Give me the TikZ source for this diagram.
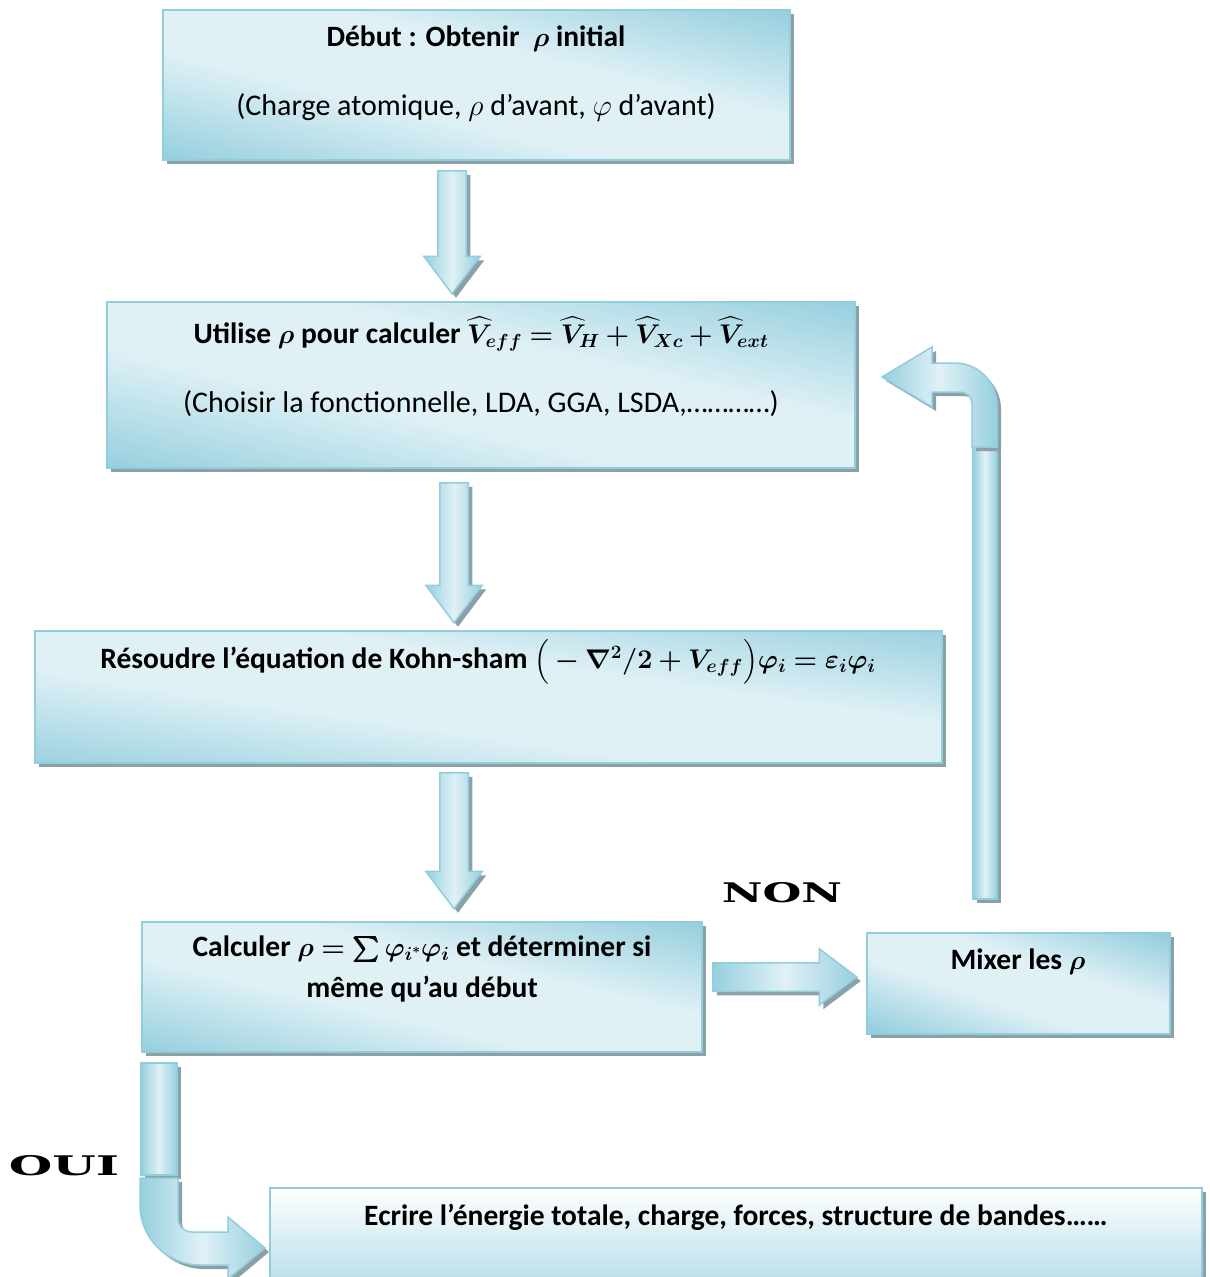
\RequirePackage{fix-cm}
\documentclass[tikz,border=0pt]{standalone}
\usepackage{fontspec}
\usepackage{amsmath}
\usepackage{bm}
\setmainfont{Carlito}
\newfontfamily\titrefont{DejaVu Serif}
\usetikzlibrary{shapes.arrows,shadows}

\definecolor{bord}{RGB}{146,205,220}
\definecolor{clair}{RGB}{224,241,246}
\definecolor{fonce}{RGB}{150,207,222}
\definecolor{ombre}{RGB}{140,160,168}
\pgfdeclareverticalshading{reflet}{100bp}{color(0bp)=(fonce); color(20bp)=(fonce); color(42bp)=(clair); color(58bp)=(clair); color(80bp)=(fonce); color(100bp)=(fonce)}
\newcommand{\eqn}[1]{{\fontsize{27}{30}\selectfont$\bm{#1}$}}

\tikzstyle{ombrage} = [drop shadow={shadow xshift=4pt, shadow yshift=-4pt, fill=ombre, opacity=1}]
\tikzstyle{boite} = [rectangle, draw=bord, line width=2pt, shade, shading=reflet, ombrage]
\tikzstyle{fleche} = [single arrow, draw=bord, line width=1.5pt, left color=fonce, right color=fonce, middle color=clair, inner sep=13.5pt, single arrow head extend=14pt, single arrow tip angle=74, anchor=tail, ombrage]
\tikzstyle{corps} = [draw=bord, line width=1.5pt, left color=fonce, right color=fonce, middle color=clair, ombrage]
\tikzstyle{titre} = [font=\fontsize{29.5}{34}\selectfont\bfseries]
\tikzstyle{texte} = [font=\fontsize{30}{34}\selectfont]
\tikzstyle{reponse} = [font=\fontsize{27}{30}\selectfont\titrefont\bfseries]

\begin{document}
\begin{tikzpicture}[x=1pt,y=-1pt]
\useasboundingbox (0,0) rectangle (1210,1277);
\clip (0,0) rectangle (1210,1277);
\fill[white] (0,0) rectangle (1210,1277);

% boites
\node (debut) [boite, shading angle=-13.5, minimum width=627pt, minimum height=150pt] at (476,85) {};
\node (veff) [boite, shading angle=-12.5, minimum width=748pt, minimum height=166pt] at (481,385) {};
\node (kohn) [boite, shading angle=-8.3, minimum width=907pt, minimum height=132pt] at (488,697) {};
\node (calcul) [boite, shading angle=-13, minimum width=560pt, minimum height=130pt] at (422,987) {};
\node (mixer) [boite, shading angle=-18.4, minimum width=303pt, minimum height=101pt] at (1018,983) {};
\node (ecrire) [boite, top color=white, bottom color=fonce!80, minimum width=932pt, minimum height=112pt] at (736,1244) {};
%
\node (debut-a) [titre] at ([yshift=-30pt]debut.north) {Début : Obtenir \ \eqn{\rho} initial};
\node (debut-b) [texte] at ([yshift=-98pt]debut.north) {(Charge atomique, $\rho$ d’avant, $\varphi$ d’avant)};
\node (veff-a) [titre] at ([yshift=-33pt]veff.north) {Utilise \eqn{\rho} pour calculer \eqn{\widehat{V}_{eff} = \widehat{V}_{H} + \widehat{V}_{Xc} + \widehat{V}_{ext}}};
\node (veff-b) [texte] at ([yshift=-103pt]veff.north) {(Choisir la fonctionnelle, LDA, GGA, LSDA,…………)};
\node (kohn-a) [titre] at ([yshift=-32pt]kohn.north) {Résoudre l’équation de Kohn-sham \eqn{\Big(-\nabla^{2}/2 + V_{eff}\Big)\varphi_{i} = \varepsilon_{i}\varphi_{i}}};
\node (calcul-a) [titre] at ([yshift=-28pt]calcul.north) {Calculer \eqn{\rho = \sum \varphi_{i^{*}}\varphi_{i}} et déterminer si};
\node (calcul-b) [titre] at ([yshift=-68pt]calcul.north) {même qu’au début};
\node (mixer-a) [titre] at ([yshift=-30pt]mixer.north) {Mixer les \eqn{\rho}};
\node (ecrire-a) [titre] at ([yshift=-30pt]ecrire.north) {Ecrire l’énergie totale, charge, forces, structure de bandes……};

% fleches
\node (f1) [fleche, shape border rotate=270, minimum height=123pt] at (452,170) {};
\node (f2) [fleche, shape border rotate=270, minimum height=140pt] at (454,482) {};
\node (f3) [fleche, shape border rotate=270, minimum height=136pt] at (454,772) {};
\node (f4) [fleche, minimum height=144pt] at (712,977) {};
%
\draw [corps] (973,899) rectangle (997,447);
\draw [corps] (972,447) -- (972,404) .. controls (972,397) and (967,392) .. (960,392) -- (932,392) -- (932,407) -- (882,377) -- (932,347) -- (932,363) -- (955,363) .. controls (978,363) and (997,382) .. (997,405) -- (997,447) -- cycle;
%
\draw [corps] (141,1063) rectangle (177,1175);
\draw [corps] (140,1178) -- (140,1205) .. controls (140,1238) and (167,1265) .. (200,1265) -- (228,1265) -- (228,1279) -- (265,1248) -- (228,1217) -- (228,1232) -- (192,1232) .. controls (184,1232) and (178,1226) .. (178,1218) -- (178,1178) -- cycle;

\node (non) [reponse] at (782,893) {\scalebox{1.65}[1]{NON}};
\node (oui) [reponse] at (64,1166) {\scalebox{1.85}[1]{OUI}};
\end{tikzpicture}
\end{document}
